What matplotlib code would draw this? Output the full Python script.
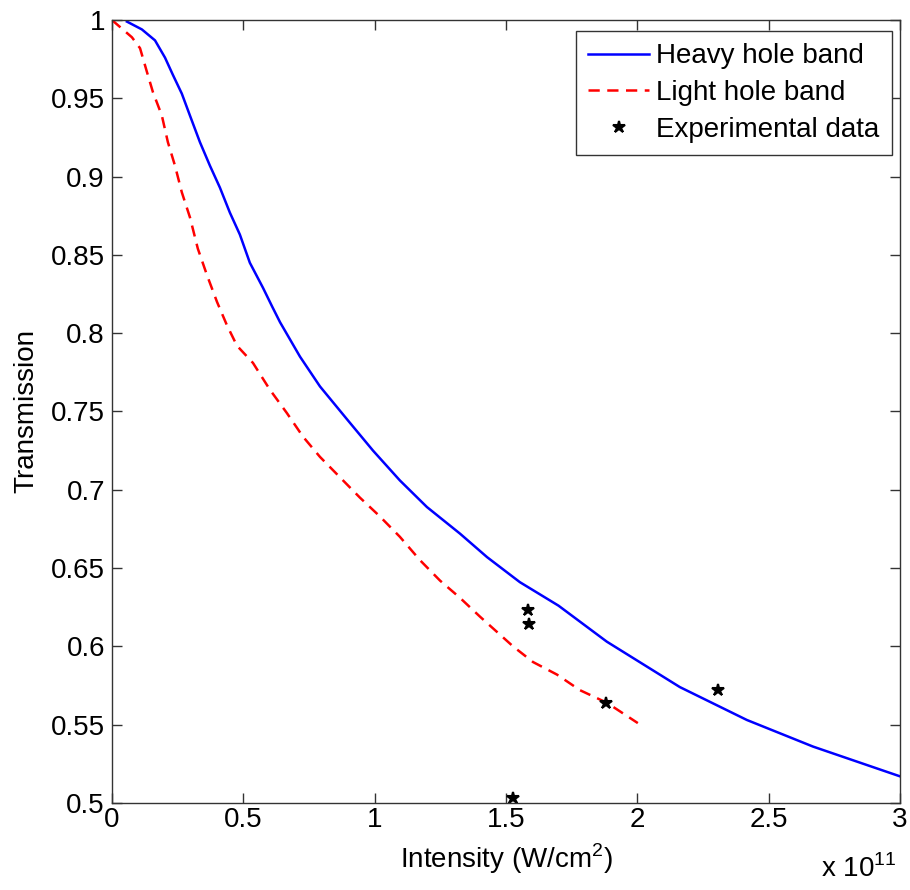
import numpy as np
import matplotlib.pyplot as plt
from matplotlib.ticker import FuncFormatter

plt.rcParams['font.family'] = ['Liberation Sans', 'DejaVu Sans']
plt.rcParams['mathtext.fontset'] = 'custom'
plt.rcParams['mathtext.rm'] = 'Liberation Sans'

# intensity in units of 1e11 W/cm^2
heavy_x = [0.057, 0.114, 0.164, 0.202, 0.232, 0.266, 0.297, 0.335, 0.373, 0.411, 0.449, 0.487,
           0.525, 0.575, 0.61, 0.64, 0.716, 0.792, 0.895, 0.994, 1.096, 1.199, 1.325, 1.428,
           1.553, 1.70, 1.884, 2.162, 2.417, 2.669, 3.0]
heavy_y = [0.999, 0.994, 0.987, 0.976, 0.965, 0.953, 0.939, 0.922, 0.907, 0.893, 0.877, 0.863,
           0.845, 0.829, 0.817, 0.807, 0.785, 0.766, 0.745, 0.725, 0.706, 0.689, 0.672, 0.657,
           0.641, 0.626, 0.603, 0.574, 0.553, 0.536, 0.517]

light_x = [0.0, 0.076, 0.107, 0.133, 0.156, 0.19, 0.213, 0.24, 0.266, 0.297, 0.327, 0.362, 0.4,
           0.438, 0.476, 0.537, 0.601, 0.666, 0.727, 0.792, 0.868, 0.944, 1.02, 1.096, 1.173,
           1.249, 1.325, 1.401, 1.527, 1.603, 1.694, 1.782, 1.884, 2.002]
light_y = [1.0, 0.989, 0.982, 0.967, 0.954, 0.939, 0.922, 0.907, 0.89, 0.874, 0.854, 0.837, 0.82,
           0.805, 0.792, 0.781, 0.764, 0.749, 0.734, 0.721, 0.708, 0.695, 0.683, 0.67, 0.655,
           0.642, 0.631, 0.619, 0.600, 0.590, 0.582, 0.572, 0.564, 0.551]

exp_x = [1.527, 1.584, 1.588, 1.881, 2.307]
exp_y = [0.503, 0.623, 0.614, 0.564, 0.572]

fig = plt.figure(figsize=(9.1, 8.9), dpi=100)
ax = fig.add_axes([0.123, 0.0978, 0.866, 0.8797])

ax.plot(heavy_x, heavy_y, color='#0000ff', lw=1.8, label='Heavy hole band')
ax.plot(light_x, light_y, color='#ff0000', lw=1.8, ls=(0, (4.5, 3)), label='Light hole band')
ax.plot(exp_x, exp_y, ls='none', marker='*', color='black', ms=9, mew=1.5, label='Experimental data')

ax.set_xlim(0, 3)
ax.set_ylim(0.5, 1.0)
ax.set_xticks(np.arange(0, 3.01, 0.5))
ax.set_yticks(np.arange(0.5, 1.001, 0.05))
fmt = FuncFormatter(lambda v, p: '%g' % round(v, 3))
ax.xaxis.set_major_formatter(fmt)
ax.yaxis.set_major_formatter(fmt)
ax.tick_params(direction='in', top=True, right=True, length=7, width=1, labelsize=20,
               colors='#333333', labelcolor='black')
ax.tick_params(axis='x', pad=3)
ax.tick_params(axis='y', pad=5)
for s in ax.spines.values():
    s.set_color('#333333')
    s.set_linewidth(1)

ax.set_xlabel('Intensity (W/cm$^2$)', fontsize=20, labelpad=6)
ax.set_ylabel('Transmission', fontsize=20, labelpad=8)
fig.text(0.985, 0.008, r'x 10$^{11}$', ha='right', va='bottom', fontsize=20)

leg = ax.legend(loc='upper right', bbox_to_anchor=(0.9898, 0.986), borderaxespad=0,
                fontsize=20, handlelength=2.2, handletextpad=0.25, fancybox=False,
                framealpha=1, edgecolor='#333333', labelspacing=0.38, borderpad=0.45)
leg.get_frame().set_linewidth(1)

fig.savefig('out.png', dpi=100)
